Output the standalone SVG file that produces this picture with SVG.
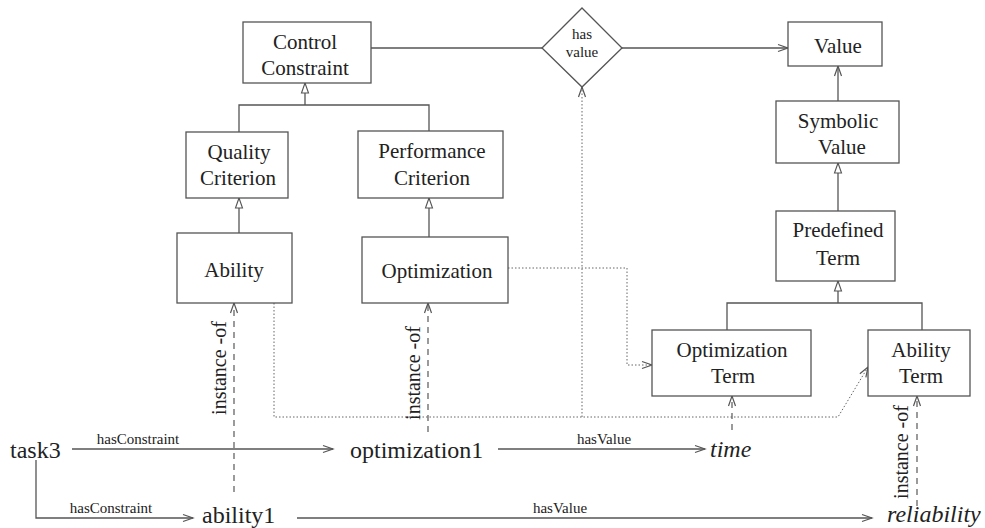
<svg xmlns="http://www.w3.org/2000/svg" width="985" height="528" viewBox="0 0 985 528">
<style>
.box{fill:#fff;stroke:#555;stroke-width:1.3}
.t{font-family:"Liberation Serif","Times New Roman",serif;font-size:21px;fill:#222;text-anchor:middle}
.big{font-family:"Liberation Serif","Times New Roman",serif;font-size:24px;fill:#222}
.it{font-style:italic}
.lbl{font-family:"Liberation Serif","Times New Roman",serif;font-size:15px;fill:#222;text-anchor:middle}
.rot{font-family:"Liberation Serif","Times New Roman",serif;font-size:20px;fill:#222;text-anchor:middle}
.ln{fill:none;stroke:#555;stroke-width:1.3}
.dot{fill:none;stroke:#666;stroke-width:1;stroke-dasharray:1.5 2}
.dash{fill:none;stroke:#666;stroke-width:1.3;stroke-dasharray:6 5}
</style>
<defs>
<marker id="open" markerUnits="userSpaceOnUse" markerWidth="12" markerHeight="8" refX="10" refY="3.5" orient="auto" overflow="visible">
<path d="M0,0 L10,3.5 L0,7" fill="none" stroke="#555" stroke-width="1.2"/>
</marker>
<marker id="tri" markerUnits="userSpaceOnUse" markerWidth="12" markerHeight="8" refX="10" refY="3.5" orient="auto" overflow="visible">
<path d="M0,0 L10,3.5 L0,7 Z" fill="#fff" stroke="#555" stroke-width="1.1"/>
</marker>
</defs>

<g id="connectors">
<path class="ln" d="M371,48 H542"/>
<path class="ln" d="M622,48 H788" marker-end="url(#open)"/>
<path class="ln" d="M838,101 V66" marker-end="url(#open)"/>
<path class="ln" d="M838,211 V163" marker-end="url(#tri)"/>
<path class="ln" d="M727,330 V303 H922 V330"/>
<path class="ln" d="M838,303 V281" marker-end="url(#tri)"/>
<path class="ln" d="M239,132 V105 H429 V131"/>
<path class="ln" d="M305,105 V83" marker-end="url(#tri)"/>
<path class="ln" d="M239,233 V198" marker-end="url(#tri)"/>
<path class="ln" d="M429,237 V198" marker-end="url(#tri)"/>
<path class="dot" d="M508,268 H627 V365 H652" marker-end="url(#open)"/>
<path class="dot" d="M274,303 V417 H838 L868,367" marker-end="url(#open)"/>
<path class="dot" d="M582,417 V87" marker-end="url(#open)"/>
<path class="dash" d="M234,492 V303" marker-end="url(#open)"/>
<path class="dash" d="M428,432 V303" marker-end="url(#open)"/>
<path class="dash" d="M732,430 V396" marker-end="url(#open)"/>
<path class="dash" d="M917,506 V396" marker-end="url(#open)"/>
<path class="ln" d="M72,449 H333" marker-end="url(#open)"/>
<path class="ln" d="M36,460 V518 H193" marker-end="url(#open)"/>
<path class="ln" d="M498,449 H705" marker-end="url(#open)"/>
<path class="ln" d="M297,518 H872" marker-end="url(#open)"/>
<text class="lbl" x="138" y="444">hasConstraint</text>
<text class="lbl" x="111" y="513">hasConstraint</text>
<text class="lbl" x="604" y="444">hasValue</text>
<text class="lbl" x="560" y="513">hasValue</text>
<text class="rot" transform="translate(226,368) rotate(-90)">instance -of</text>
<text class="rot" transform="translate(420,373) rotate(-90)">instance -of</text>
<text class="rot" transform="translate(908,452) rotate(-90)">instance -of</text>
</g>

<g id="control-constraint">
<rect class="box" x="243" y="22" width="128" height="61"/>
<text class="t" x="305" y="49">Control</text>
<text class="t" x="305" y="75">Constraint</text>
</g>
<g id="has-value">
<path class="box" d="M582,8 L622,48 L582,87 L542,48 Z"/>
<text class="lbl" x="582" y="39">has</text>
<text class="lbl" x="582" y="57">value</text>
</g>
<g id="value">
<rect class="box" x="788" y="22" width="94" height="44"/>
<text class="t" x="838" y="53">Value</text>
</g>
<g id="symbolic-value">
<rect class="box" x="776" y="101" width="123" height="62"/>
<text class="t" x="838" y="128">Symbolic</text>
<text class="t" x="842" y="154">Value</text>
</g>
<g id="predefined-term">
<rect class="box" x="776" y="211" width="119" height="70"/>
<text class="t" x="838" y="237">Predefined</text>
<text class="t" x="838" y="265">Term</text>
</g>
<g id="quality-criterion">
<rect class="box" x="186" y="132" width="102" height="66"/>
<text class="t" x="239" y="159">Quality</text>
<text class="t" x="238" y="185">Criterion</text>
</g>
<g id="performance-criterion">
<rect class="box" x="358" y="131" width="145" height="67"/>
<text class="t" x="432" y="158">Performance</text>
<text class="t" x="432" y="185">Criterion</text>
</g>
<g id="ability">
<rect class="box" x="177" y="233" width="115" height="70"/>
<text class="t" x="234" y="277">Ability</text>
</g>
<g id="optimization">
<rect class="box" x="362" y="237" width="146" height="66"/>
<text class="t" x="437" y="278">Optimization</text>
</g>
<g id="optimization-term">
<rect class="box" x="652" y="330" width="159" height="66"/>
<text class="t" x="732" y="357">Optimization</text>
<text class="t" x="733" y="383">Term</text>
</g>
<g id="ability-term">
<rect class="box" x="868" y="330" width="102" height="66"/>
<text class="t" x="921" y="357">Ability</text>
<text class="t" x="921" y="383">Term</text>
</g>
<g id="task3"><text class="big" x="10" y="458">task3</text></g>
<g id="optimization1"><text class="big" x="350" y="458">optimization1</text></g>
<g id="time"><text class="big it" x="710" y="457">time</text></g>
<g id="ability1"><text class="big" x="202" y="523">ability1</text></g>
<g id="reliability"><text class="big it" x="887" y="522">reliability</text></g>
</svg>
